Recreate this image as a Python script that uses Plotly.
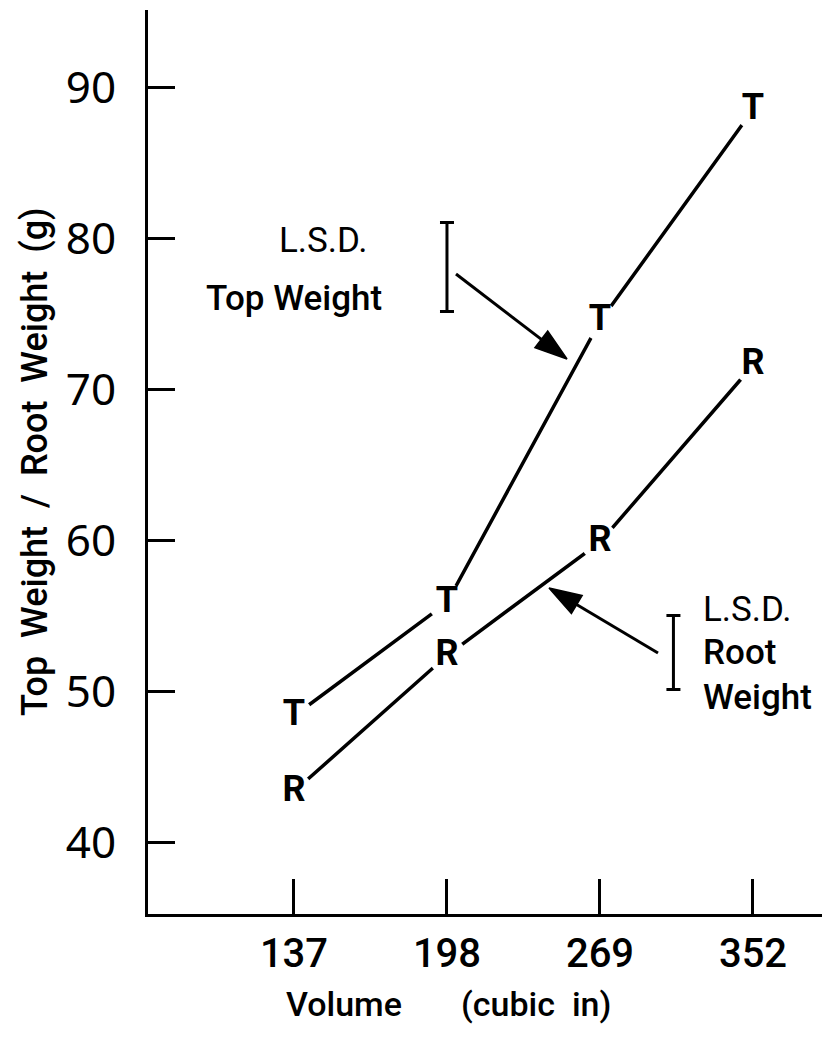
import plotly.graph_objects as go

# Container volume classes (cubic inches) and mean weights (g)
volumes = ["137", "198", "269", "352"]
top_weight = [48.4, 55.9, 74.5, 88.5]
root_weight = [43.4, 52.4, 59.9, 71.6]

# Least significant differences and where their bars are drawn
lsd_top = 5.9
lsd_top_pos = (1.0, 78.1)
lsd_root = 4.9
lsd_root_pos = (2.48, 52.6)

y_ticks = [40, 50, 60, 70, 80, 90]

TEXT = "Roboto, Liberation Sans, sans-serif"
ROUND = "Noto Sans, DejaVu Sans, sans-serif"

# Plot area in pixels (used to place free text and arrows)
L, T, W, H = 148, 10, 674, 904
X_RANGE = [-0.954, 3.451]
Y_RANGE = [35.3, 95.1]


def paper(xp, yp):
    return (xp - L) / W, (T + H - yp) / H


def data(xp, yp):
    fx, fy = paper(xp, yp)
    return (X_RANGE[0] + fx * (X_RANGE[1] - X_RANGE[0]),
            Y_RANGE[0] + fy * (Y_RANGE[1] - Y_RANGE[0]))


xi = list(range(len(volumes)))

fig = go.Figure()


def series(values, letter):
    fig.add_trace(go.Scatter(
        x=xi, y=values, mode="lines",
        line=dict(color="black", width=3.5), hoverinfo="skip",
        showlegend=False,
    ))
    # white disc behind each letter leaves a gap in the line
    fig.add_trace(go.Scatter(
        x=xi, y=values, mode="markers+text",
        marker=dict(symbol="circle", size=38, color="white",
                    line=dict(width=0)),
        text=[letter] * len(values), textposition="middle center",
        textfont=dict(family=TEXT, size=36, color="black", weight="bold"),
        showlegend=False,
    ))


series(top_weight, "T")
series(root_weight, "R")

# L.S.D. bars
for (bx, by), lsd in ((lsd_top_pos, lsd_top), (lsd_root_pos, lsd_root)):
    fig.add_trace(go.Scatter(
        x=[bx], y=[by], mode="markers",
        marker=dict(size=1, color="rgba(0,0,0,0)"),
        error_y=dict(type="constant", value=lsd / 2, color="black",
                     thickness=3, width=7),
        showlegend=False, hoverinfo="skip",
    ))

# Arrows from the L.S.D. bars to the curves (tail -> head, in pixels)
for tail, head in (((456, 274), (567, 359)), ((658, 653), (549, 588))):
    (x0, y0), (x1, y1) = data(*tail), data(*head)
    fig.add_trace(go.Scatter(
        x=[x0, x1], y=[y0, y1], mode="lines+markers",
        line=dict(color="black", width=3),
        marker=dict(symbol="arrow", size=[0, 34], angleref="previous",
                    color="black", opacity=1,
                    line=dict(width=1.5, color="black")),
        showlegend=False, hoverinfo="skip",
    ))

annotations = []


def label(text, xp, yp, size=36, xanchor="center", angle=0, weight=500):
    px_, py_ = paper(xp, yp)
    annotations.append(dict(
        text=text, x=px_, y=py_, xref="paper", yref="paper",
        xanchor=xanchor, yanchor="middle", showarrow=False,
        textangle=angle,
        font=dict(family=TEXT, size=size, color="black", weight=weight),
    ))


NB = "\u00a0"
label("L.S.D.", 323, 240, size=35, weight=400)
label("Top" + NB + "Weight", 294, 298, size=35)
label("L.S.D.", 701, 610, size=35, xanchor="left", weight=400)
label("Root", 701, 652, size=35, xanchor="left")
label("Weight", 701, 697, size=35, xanchor="left")

label("Volume" + NB * 7 + "(cubic" + NB * 2 + "in)", 448, 1004, size=34)
label(("Top" + NB * 2 + "Weight" + NB * 2 + "/" + NB * 2 + "Root" + NB * 2
       + "Weight" + NB * 2 + "(g)"), 35, 462, size=36, angle=-90)

fig.update_layout(
    width=822, height=1037,
    margin=dict(l=L, r=822 - L - W, t=T, b=1037 - T - H),
    paper_bgcolor="white", plot_bgcolor="white",
    annotations=annotations,
    showlegend=False,
)

fig.update_xaxes(
    range=X_RANGE, tickvals=xi, ticktext=volumes,
    showgrid=False, zeroline=False,
    showline=True, linecolor="black", linewidth=3,
    ticks="inside", ticklen=35, tickwidth=2.5, tickcolor="black",
    ticklabelstandoff=2,
    tickfont=dict(family=TEXT, size=40, color="black", weight=500),
)
fig.update_yaxes(
    range=Y_RANGE, tickvals=y_ticks,
    showgrid=False, zeroline=False,
    showline=True, linecolor="black", linewidth=3,
    ticks="inside", ticklen=27, tickwidth=3, tickcolor="black",
    ticklabelstandoff=20,
    tickfont=dict(family=ROUND, size=44, color="black"),
)

fig.write_html("out.html")
